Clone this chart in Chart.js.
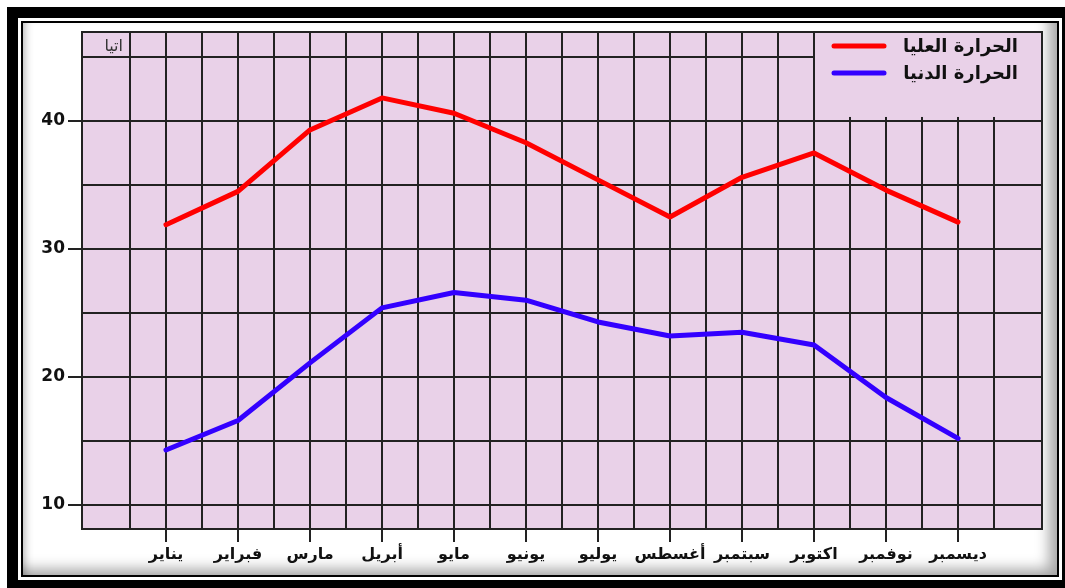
<!DOCTYPE html>
<html lang="ar">
<head>
<meta charset="utf-8">
<title>درجات الحرارة</title>
<script src="https://cdn.jsdelivr.net/npm/chart.js@4/dist/chart.umd.min.js"></script>
<style>
    html, body { margin: 0; padding: 0; background: #fff; width: 1065px; height: 588px; overflow: hidden; }
    #frameOuter {
        position: absolute; left: 7px; top: 7px; width: 1044px; height: 562px;
        border-style: solid; border-color: #000; border-width: 11px 3px 11px 11px;
    }
    #frameInner {
        position: absolute; left: 21px; top: 21px; width: 1034px; height: 552px;
        border: 2px solid #000;
        box-shadow: inset -14px -12px 14px -6px rgba(0,0,0,0.35), inset 8px 0 8px -6px rgba(0,0,0,0.3);
    }
    #myChart { position: absolute; left: 0; top: 0; }
</style>
</head>
<body>
<div id="frameOuter"></div>
<div id="frameInner"></div>
<canvas id="myChart" width="1065" height="588"></canvas>
<script>
const months = ["يناير", "فبراير", "مارس", "أبريل", "مايو", "يونيو", "يوليو", "أغسطس", "سبتمبر", "اكتوبر", "نوفمبر", "ديسمبر"];
const maxTemp = [31.9, 34.5, 39.3, 41.8, 40.6, 38.3, 35.4, 32.5, 35.6, 37.5, 34.6, 32.1];
const minTemp = [14.3, 16.6, 21.1, 25.4, 26.6, 26.0, 24.3, 23.2, 23.5, 22.5, 18.4, 15.2];
const seriesNames = ["الحرارة العليا", "الحرارة الدنيا"];
const yGridValues = [10, 15, 20, 25, 30, 35, 40, 45];
const yLabelValues = [10, 20, 30, 40];
const cornerLabel = "اتيا";

// vertical grid every half month, labels only on whole months
const xGridValues = months.flatMap((m, i) => [i - 0.5, i]).concat([months.length - 0.5]);

const plotBg = "#e9d1e8";
const gridColor = "#222";

const toPoints = (values) => values.map((v, i) => ({ x: i, y: v }));

const plotDecor = {
    id: "plotDecor",
    beforeDraw: (chart) => {
        const { ctx, chartArea: a } = chart;
        ctx.save();
        ctx.fillStyle = plotBg;
        ctx.fillRect(a.left, a.top, a.right - a.left, a.bottom - a.top);
        ctx.restore();
    },
    afterDatasetsDraw: (chart) => {
        const { ctx, chartArea: a, scales } = chart;
        const boxLeft = scales.x.getPixelForValue(9) + 1;
        const boxBottom = scales.y.getPixelForValue(40) - 4;

        ctx.save();
        // legend box covers the grid
        ctx.fillStyle = plotBg;
        ctx.fillRect(boxLeft, a.top + 1, a.right - boxLeft - 1, boxBottom - a.top - 1);

        // outline of the plot
        ctx.strokeStyle = gridColor;
        ctx.lineWidth = 2;
        ctx.strokeRect(a.left, a.top, a.right - a.left, a.bottom - a.top);

        // legend
        ctx.font = "bold 18px 'DejaVu Sans'";
        ctx.textAlign = "right";
        ctx.textBaseline = "middle";
        chart.data.datasets.forEach((ds, i) => {
            const ly = a.top + 14 + i * 27;
            ctx.strokeStyle = ds.borderColor;
            ctx.lineWidth = 5;
            ctx.lineCap = "round";
            ctx.beginPath();
            ctx.moveTo(boxLeft + 19, ly);
            ctx.lineTo(boxLeft + 69, ly);
            ctx.stroke();
            ctx.fillStyle = "#111";
            ctx.fillText(ds.label, a.right - 24, ly + 1);
        });

        // small label in the first cell
        ctx.font = "16px 'DejaVu Sans'";
        ctx.fillStyle = "#333";
        ctx.fillText(cornerLabel, scales.x.getPixelForValue(-0.5) - 7, a.top + 15);
        ctx.restore();
    }
};

const ctx = document.getElementById("myChart").getContext("2d");
const myChart = new Chart(ctx, {
    type: "line",
    data: {
        datasets: [
            { label: seriesNames[0], data: toPoints(maxTemp), borderColor: "#ff0000", backgroundColor: "#ff0000" },
            { label: seriesNames[1], data: toPoints(minTemp), borderColor: "#3300ff", backgroundColor: "#3300ff" }
        ]
    },
    options: {
        responsive: false,
        animation: false,
        layout: { padding: { top: 32, right: 23, left: 0, bottom: 0 } },
        plugins: { legend: { display: false }, tooltip: { enabled: false } },
        elements: {
            point: { radius: 0 },
            line: { borderWidth: 5, tension: 0, borderCapStyle: "round", borderJoinStyle: "round" }
        },
        scales: {
            x: {
                type: "linear",
                min: -7 / 6,
                max: 73 / 6,
                afterBuildTicks: (scale) => { scale.ticks = xGridValues.map(v => ({ value: v })); },
                afterFit: (scale) => { scale.height = 59; },
                grid: {
                    color: gridColor,
                    lineWidth: 2,
                    tickLength: 13,
                    tickColor: (c) => Number.isInteger(c.tick.value) ? gridColor : "rgba(0,0,0,0)"
                },
                border: { color: gridColor, width: 2 },
                ticks: {
                    autoSkip: false,
                    maxRotation: 0,
                    padding: 3,
                    color: "#111",
                    font: { family: "DejaVu Sans", weight: "bold", size: 16 },
                    callback: (v) => Number.isInteger(v) ? months[v] : ""
                }
            },
            y: {
                min: 8.125,
                max: 46.95,
                afterBuildTicks: (scale) => { scale.ticks = yGridValues.map(v => ({ value: v })); },
                afterFit: (scale) => { scale.width = 82; },
                grid: {
                    color: gridColor,
                    lineWidth: 2,
                    tickLength: 14,
                    tickColor: (c) => yLabelValues.includes(c.tick.value) ? gridColor : "rgba(0,0,0,0)"
                },
                border: { color: gridColor, width: 2 },
                ticks: {
                    padding: 3,
                    color: "#111",
                    font: { family: "DejaVu Sans", weight: "bold", size: 17 },
                    callback: (v) => yLabelValues.includes(v) ? String(v) : ""
                }
            }
        }
    },
    plugins: [plotDecor]
});
</script>
</body>
</html>
